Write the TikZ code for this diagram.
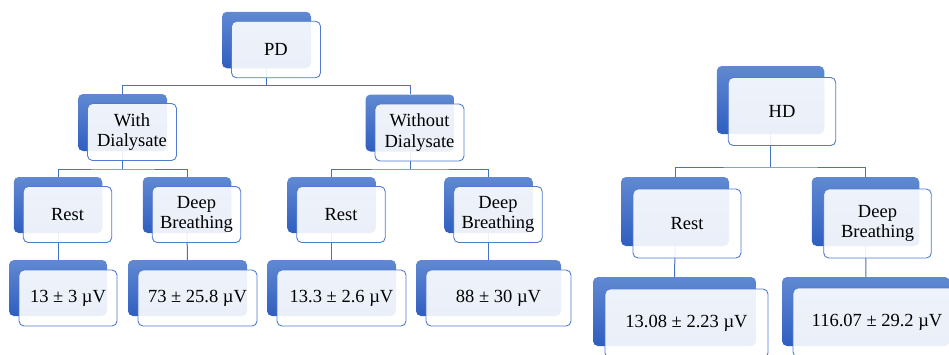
\documentclass[tikz,border=0pt]{standalone}
\usepackage{fontspec}
\setmainfont{Liberation Serif}
\pgfdeclarelayer{bg}
\pgfsetlayers{bg,main}
\definecolor{lineblue}{HTML}{4472C4}
\definecolor{edgeblue}{HTML}{4F7CCF}
\definecolor{topblue}{HTML}{6189D2}
\definecolor{botblue}{HTML}{2F5EC0}
\newcommand\mkpair[7]{%
  \node[backbox, minimum width=#4pt, minimum height=#5pt] (#1b) at (#2,#3) {};
  \node[frontbox, minimum width=#4pt, minimum height=#5pt] (#1) at (#2+#6,#3+#6) {#7};}
\begin{document}
\begin{tikzpicture}[x=1pt,y=-1pt,
  backbox/.style={rounded corners=5pt, top color=topblue, bottom color=botblue, draw=none, inner sep=0pt},
  frontbox/.style={rounded corners=5pt, draw=edgeblue, line width=0.9pt, fill=white, fill opacity=0.9, text opacity=1, inner sep=0pt, align=center, font=\fontsize{18.5}{20.7}\selectfont},
  conn/.style={draw=lineblue, line width=1pt}]
\useasboundingbox (0,0) rectangle (949,354);
\clip (0,0) rectangle (949,354);
% PD tree
\mkpair{pd}{266.5}{40}{89}{56.5}{9.5}{PD}
\mkpair{with}{122.5}{122.5}{89}{57}{9.5}{With\\Dialysate}
\mkpair{without}{410}{123}{89}{57}{9.5}{Without\\Dialysate}
\mkpair{resta}{58}{205}{88.5}{56}{9.5}{Rest}
\mkpair{dba}{187}{205}{88.5}{56}{9.5}{Deep\\Breathing}
\mkpair{restb}{331.5}{205}{88.5}{56}{9.5}{Rest}
\mkpair{dbb}{488.5}{205}{88.5}{56}{9.5}{Deep\\Breathing}
\mkpair{va}{58}{288}{98}{56}{10}{13 ± 3 µV}
\mkpair{vb}{187.5}{288}{119}{56}{10}{73 ± 25.8 µV}
\mkpair{vc}{331.5}{288}{129}{56}{10}{13.3 ± 2.6 µV}
\mkpair{vd}{488.5}{288}{145}{56}{10}{88 ± 30 µV}
% HD tree
\mkpair{hd}{770.5}{100}{107.5}{68}{11.5}{HD}
\mkpair{restc}{675}{211.5}{108}{69}{12}{Rest}
\mkpair{dbc}{865.5}{211.5}{107.5}{69}{12}{Deep\\Breathing}
\mkpair{ve}{674.5}{311.5}{163}{69}{12}{13.08 ± 2.23 µV}
\mkpair{vf}{866}{311.5}{168}{69}{11}{116.07 ± 29.2 µV}
\coordinate (j1) at (266.5,85.7);
\coordinate (j2) at (122.5,169);
\coordinate (j3) at (410,169);
\coordinate (j4) at (770.5,167);
\begin{pgfonlayer}{bg}
\draw[conn] (pdb.center) -- (j1);
\draw[conn] (withb.north) |- (j1) -| (withoutb.north);
\draw[conn] (withb.center) -- (j2);
\draw[conn] (restab.north) |- (j2) -| (dbab.north);
\draw[conn] (withoutb.center) -- (j3);
\draw[conn] (restbb.north) |- (j3) -| (dbbb.north);
\draw[conn] (restab.center) -- (vab.center);
\draw[conn] (dbab.center) -- (vbb.center);
\draw[conn] (restbb.center) -- (vcb.center);
\draw[conn] (dbbb.center) -- (vdb.center);
\draw[conn] (hdb.center) -- (j4);
\draw[conn] (restcb.north) |- (j4) -| (dbcb.north);
\draw[conn] (restcb.center) -- (veb.center);
\draw[conn] (dbcb.center) -- (vfb.center);
\end{pgfonlayer}
\end{tikzpicture}
\end{document}
